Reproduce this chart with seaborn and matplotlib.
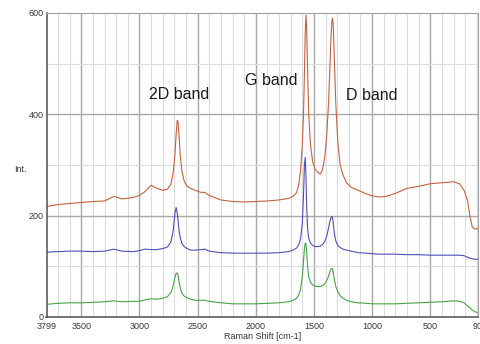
import numpy as np
import pandas as pd
import matplotlib
matplotlib.use("Agg")
import matplotlib.pyplot as plt
import seaborn as sns
from matplotlib.ticker import MultipleLocator, FixedLocator

# Raman shift grid (cm-1)
shift = [3799, 3700, 3600, 3500, 3400, 3300, 3220, 3150, 3050, 3000, 2950, 2900,
         2850, 2800, 2760, 2730, 2710, 2695, 2685, 2675, 2668, 2660, 2650, 2635,
         2615, 2590, 2560, 2520, 2470, 2440, 2400, 2300, 2200, 2100, 2000, 1900,
         1800, 1720, 1680, 1650, 1630, 1615, 1600, 1590, 1582, 1575, 1569, 1563,
         1555, 1545, 1530, 1510, 1490, 1465, 1445, 1425, 1405, 1390, 1375, 1362,
         1352, 1345, 1340, 1334, 1325, 1312, 1295, 1275, 1250, 1220, 1180, 1120,
         1050, 1000, 940, 880, 800, 700, 600, 500, 400, 300, 250, 210, 180, 160,
         140, 120, 100, 90]

red_int = [218, 222, 224, 226, 228, 229, 238, 233, 236, 240, 248, 260,
           254, 250, 252, 262, 285, 320, 360, 388, 385, 360, 320, 288,
           268, 258, 254, 250, 246, 246, 240, 231, 228, 227, 228, 229,
           231, 234, 238, 245, 262, 290, 340, 400, 480, 560, 596, 570,
           490, 400, 340, 305, 292, 285, 282, 292, 320, 360, 420, 500,
           560, 585, 590, 575, 510, 420, 345, 300, 280, 265, 256, 250,
           243, 239, 237, 238, 244, 254, 258, 263, 265, 267, 263, 250,
           230, 200, 178, 174, 174, 174]

blue_int = [128, 129, 130, 130, 129, 130, 134, 130, 129, 131, 134, 133,
            133, 135, 138, 148, 170, 205, 216, 205, 190, 172, 157, 145,
            139, 135, 132, 132, 133, 134, 130, 127, 126, 126, 126, 126,
            127, 129, 132, 136, 143, 155, 185, 240, 300, 315, 280, 220,
            175, 155, 146, 141, 139, 139, 140, 143, 150, 160, 175, 190,
            197, 198, 195, 185, 165, 150, 141, 137, 134, 132, 130, 127,
            126, 125, 124, 124, 124, 123, 123, 122, 122, 122, 122, 121,
            118, 116, 115, 114, 114, 114]

green_int = [25, 27, 28, 28, 29, 30, 32, 30, 31, 31, 34, 36,
             35, 37, 40, 48, 62, 78, 86, 87, 82, 70, 58, 47,
             41, 38, 35, 33, 33, 33, 31, 28, 26, 26, 26, 27,
             28, 30, 33, 37, 44, 55, 80, 110, 135, 146, 145, 130,
             100, 80, 68, 63, 61, 60, 60, 62, 66, 72, 80, 90,
             95, 96, 95, 88, 74, 60, 50, 42, 37, 33, 30, 28,
             27, 26, 26, 26, 26, 27, 28, 29, 30, 32, 31, 28,
             22, 18, 14, 11, 9, 9]

labels = ["2D band", "G band", "D band"]
label_x = [2659, 1869, 1002]
label_y = [440, 467, 438]

df = pd.DataFrame({"shift": shift * 3,
                   "intensity": red_int + blue_int + green_int,
                   "sample": ["red"] * len(shift) + ["blue"] * len(shift) + ["green"] * len(shift)})

sns.set_style("white")
plt.rcParams['font.family'] = ['Liberation Sans', 'DejaVu Sans']

fig, ax = plt.subplots(figsize=(4.81, 3.44), dpi=100)
fig.subplots_adjust(left=46.5 / 481, right=478 / 481, bottom=1 - 317 / 344, top=1 - 13 / 344)

# grid: light every 100, darker on major lines
for x in range(100, 3800, 100):
    major = x % 500 == 0
    ax.axvline(x, color="#a8a8a8" if major else "#dcdcdc", lw=1.0 if major else 0.8, zorder=0)
for y in range(100, 600, 100):
    major = y % 200 == 0
    ax.axhline(y, color="#a8a8a8" if major else "#dcdcdc", lw=1.0 if major else 0.8, zorder=0)

sns.lineplot(data=df, x="shift", y="intensity", hue="sample",
             palette={"red": "#c4623f", "blue": "#4f4fb8", "green": "#47a447"},
             sort=False, estimator=None, lw=0.8, legend=False, ax=ax)

ax.set_xlim(3799, 90)
ax.set_ylim(0, 600)

ax.xaxis.set_major_locator(FixedLocator([3799, 3500, 3000, 2500, 2000, 1500, 1000, 500, 90]))
ax.xaxis.set_minor_locator(MultipleLocator(100))
ax.yaxis.set_major_locator(MultipleLocator(200))
ax.yaxis.set_minor_locator(MultipleLocator(100))
ax.tick_params(axis="both", which="both", direction="in", colors="#555555",
               labelcolor="#383838", labelsize=6.5, pad=2)
ax.tick_params(axis="x", which="major", pad=3.5)
ax.tick_params(which="major", length=4, width=0.8)
ax.tick_params(which="minor", length=3, width=0.6)

ax.set_xlabel("Raman Shift [cm-1]", fontsize=6.5, color="#383838", labelpad=1)
ax.set_ylabel("")
fig.text(20 / 481, 1 - 170 / 344, "Int.", fontsize=6.5, color="#383838",
         ha="center", va="center")

for lab, lx, ly in zip(labels, label_x, label_y):
    ax.text(lx, ly, lab, fontsize=11.5, color="#1a1a1a", ha="center", va="center")

for side in ["left", "bottom"]:
    ax.spines[side].set_color("#505050")
    ax.spines[side].set_linewidth(1.1)
for side in ["top", "right"]:
    ax.spines[side].set_color("#a0a0a0")
    ax.spines[side].set_linewidth(0.8)

fig.savefig("out.png", dpi=100)
